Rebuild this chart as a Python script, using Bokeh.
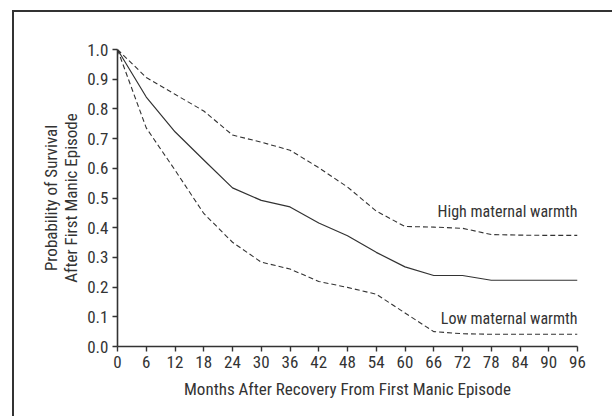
import numpy as np
from bokeh.plotting import figure
from bokeh.models import Range1d, FixedTicker, ColumnDataSource
from bokeh.core.properties import value
from bokeh.embed import file_html
from bokeh.resources import INLINE

months = [0, 6, 12, 18, 24, 30, 36, 42, 48, 54, 60, 66, 72, 78, 84, 90, 96]
overall = [1.0, 0.84, 0.723, 0.628, 0.534, 0.492, 0.47, 0.416, 0.373, 0.317, 0.268, 0.239, 0.239, 0.223, 0.223, 0.223, 0.223]
high_warmth = [1.0, 0.906, 0.849, 0.793, 0.712, 0.688, 0.661, 0.602, 0.537, 0.456, 0.404, 0.402, 0.398, 0.377, 0.375, 0.374, 0.374]
low_warmth = [1.0, 0.736, 0.594, 0.448, 0.351, 0.284, 0.261, 0.219, 0.199, 0.176, 0.113, 0.05, 0.043, 0.041, 0.041, 0.041, 0.041]
x_ticks = [0, 6, 12, 18, 24, 30, 36, 42, 48, 54, 60, 66, 72, 78, 84, 90, 96]
y_ticks = [0.0, 0.1, 0.2, 0.3, 0.4, 0.5, 0.6, 0.7, 0.8, 0.9, 1.0]
y_tick_labels = {t: f"{t:.1f}" for t in y_ticks}
series_labels = ["High maternal warmth", "Low maternal warmth"]
label_x = [96, 96]
label_y = [0.455, 0.094]

FONT = "Roboto Condensed, Roboto"
INK = "#333333"
FS = "17px"

p = figure(width=600, height=406, output_backend="svg", toolbar_location=None,
           x_range=Range1d(0, 96), y_range=Range1d(0, 1.0),
           min_border_left=103, min_border_right=37, min_border_top=37, min_border_bottom=72)
p.styles = {"margin-left": "12px", "margin-top": "10px",
            "border-left": "2px solid #333333", "border-top": "2px solid #333333"}
p.outline_line_color = None
p.grid.visible = False
p.background_fill_color = "white"
p.border_fill_color = "white"

p.line(months, overall, line_color=INK, line_width=1.2)
p.line(months, high_warmth, line_color=INK, line_width=1.1, line_dash="5 3")
p.line(months, low_warmth, line_color=INK, line_width=1.1, line_dash="5 3")

src = ColumnDataSource(dict(x=label_x, y=label_y, t=series_labels))
p.text(x="x", y="y", text="t", source=src, text_align="right", text_baseline="middle",
       text_font=value(FONT), text_font_size="16px", text_color=INK)

for ax in (p.xaxis[0], p.yaxis[0]):
    ax.axis_line_color = INK
    ax.axis_line_width = 1.6
    ax.major_tick_line_color = INK
    ax.major_tick_line_width = 1.4
    ax.major_tick_out = 5
    ax.major_tick_in = 0
    ax.minor_tick_line_color = None
    ax.major_label_text_font = FONT
    ax.major_label_text_font_size = FS
    ax.major_label_text_color = INK
    ax.axis_label_text_font = FONT
    ax.axis_label_text_font_size = FS
    ax.axis_label_text_font_style = "normal"
    ax.axis_label_text_color = INK

p.xaxis.ticker = FixedTicker(ticks=x_ticks)
p.yaxis.ticker = FixedTicker(ticks=y_ticks)
p.yaxis.major_label_overrides = y_tick_labels
p.xaxis.major_label_standoff = 4
p.yaxis.major_label_standoff = 4
p.xaxis.axis_label = "Months After Recovery From First Manic Episode"
p.xaxis.axis_label_standoff = 8
p.yaxis.axis_label = "Probability of Survival\nAfter First Manic Episode"
p.yaxis.axis_label_standoff = 3
p.yaxis.axis_label_text_line_height = 1.0

open("out.html", "w").write(file_html(p, INLINE))
